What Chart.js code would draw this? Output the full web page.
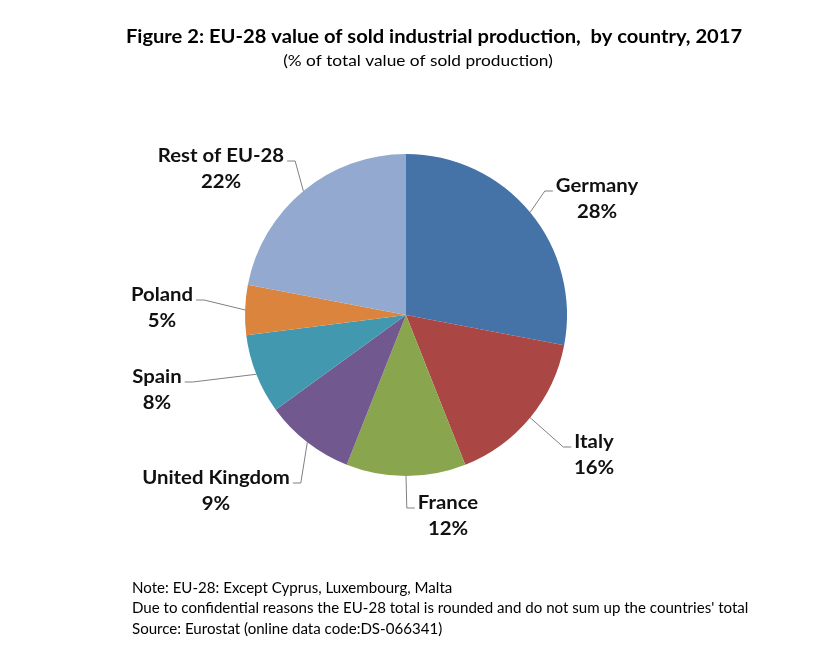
<!DOCTYPE html>
<html>
<head>
<meta charset="utf-8">
<script src="https://cdn.jsdelivr.net/npm/chart.js@4/dist/chart.umd.min.js"></script>
<style>
  html, body { margin: 0; padding: 0; background: #ffffff; }
  #wrap { width: 829px; height: 665px; }
</style>
</head>
<body>
<div id="wrap"><canvas id="c" width="829" height="665"></canvas></div>
<script>
// ---- data ----
const categories = ['Germany', 'Italy', 'France', 'United Kingdom', 'Spain', 'Poland', 'Rest of EU-28'];
const shares = [28, 16, 12, 9, 8, 5, 22];
const titleText = 'Figure 2: EU-28 value of sold industrial production,  by country, 2017';
const subtitleText = '(% of total value of sold production)';
const noteLines = [
  'Note: EU-28: Except Cyprus, Luxembourg, Malta',
  "Due to confidential reasons the EU-28 total is rounded and do not sum up the countries' total",
  'Source: Eurostat (online data code:DS-066341)'
];

// ---- style ----
const sliceColors = ['#4572A7', '#AA4643', '#89A54E', '#71588F', '#4198AF', '#DB843D', '#93A9CF'];
// label block (first line centre) offset from the pie centre, in px
const labelOffsets = [[191, -129], [188, 127], [42, 188], [-190, 163], [-249, 62], [-244, -20], [-185, -159]];
const FONT = 'Lato, "Open Sans", sans-serif';

// draw text horizontally stretched by sx (approximates Calibri proportions)
function drawText(ctx, text, x, y, align, font, sx) {
  ctx.save();
  ctx.font = font;
  ctx.textAlign = align;
  ctx.textBaseline = 'middle';
  ctx.translate(x, y);
  ctx.scale(sx, 1);
  ctx.fillText(text, 0, 0);
  ctx.restore();
}

const overlay = {
  id: 'overlay',
  afterDraw(chart) {
    const ctx = chart.ctx;
    ctx.save();
    ctx.fillStyle = '#000';
    // title
    drawText(ctx, titleText, 434, 37, 'center', 'bold 19px ' + FONT, 1.06);
    drawText(ctx, subtitleText, 418, 61, 'center', '16px ' + FONT, 1.08);
    // notes
    noteLines.forEach((t, i) => drawText(ctx, t, 132, 588 + i * 20.5, 'left', '14.5px ' + FONT, 1.04));

    // slice labels with leader lines
    const labelFont = 'bold 19px ' + FONT;
    const labelSx = 1.07;
    const meta = chart.getDatasetMeta(0);
    meta.data.forEach((arc, i) => {
      const p = arc.getProps(['x', 'y', 'startAngle', 'endAngle', 'outerRadius'], true);
      const mid = (p.startAngle + p.endAngle) / 2;
      const ex = p.x + Math.cos(mid) * p.outerRadius;
      const ey = p.y + Math.sin(mid) * p.outerRadius;
      const lx = p.x + labelOffsets[i][0];
      const ly = p.y + labelOffsets[i][1];
      ctx.font = labelFont;
      const w1 = ctx.measureText(categories[i]).width * labelSx;
      const right = labelOffsets[i][0] > 0;
      const sideX = right ? lx - w1 / 2 - 3 : lx + w1 / 2 + 3;
      const elbowX = right ? sideX - 8 : sideX + 8;
      const lineY = ly + 5;
      ctx.strokeStyle = '#808080';
      ctx.lineWidth = 1;
      ctx.beginPath();
      ctx.moveTo(sideX, lineY);
      ctx.lineTo(elbowX, lineY);
      ctx.lineTo(ex, ey);
      ctx.stroke();
      ctx.fillStyle = '#111';
      drawText(ctx, categories[i], lx, ly, 'center', labelFont, labelSx);
      drawText(ctx, shares[i] + '%', lx, ly + 26, 'center', labelFont, labelSx);
    });
    ctx.restore();
  }
};

new Chart(document.getElementById('c'), {
  type: 'pie',
  data: {
    labels: categories,
    datasets: [{
      data: shares,
      backgroundColor: sliceColors,
      borderWidth: 0
    }]
  },
  options: {
    responsive: false,
    devicePixelRatio: 1,
    animation: false,
    layout: { padding: { left: 245, right: 262, top: 154, bottom: 189 } },
    plugins: {
      legend: { display: false },
      tooltip: { enabled: false },
      title: { display: false }
    }
  },
  plugins: [overlay]
});
</script>
</body>
</html>
